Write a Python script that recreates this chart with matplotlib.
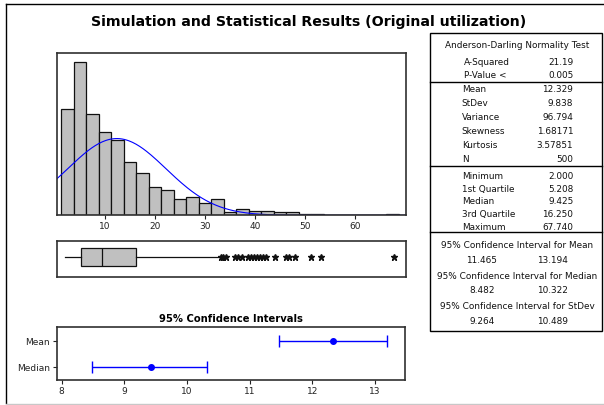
import numpy as np
import matplotlib
matplotlib.use("Agg")
import matplotlib.pyplot as plt
from matplotlib.lines import Line2D

plt.rcParams['font.family'] = ['DejaVu Sans']

# histogram: bin centres (width 2.5) and counts
bin_width = 2.5
bin_centers = np.arange(1, 28) * bin_width
counts = [70, 101, 67, 55, 50, 35, 28, 19, 17, 11, 12, 8, 11,
          2, 4, 3, 3, 2, 2, 1, 1, 0, 0, 0, 0, 0, 1]

# summary stats
n_obs = 500
mean = 12.329
stdev = 9.838
q1, median, q3 = 5.208, 9.425, 16.250
minimum, maximum = 2.000, 67.740
whisker_hi = 32.6
outliers = [33.1, 33.6, 34.1, 36.0, 36.6, 37.3, 38.6, 39.1, 39.7, 40.3,
            40.9, 41.5, 42.1, 44.0, 46.1, 46.8, 47.9, 51.2, 53.2, 67.74]

# confidence intervals
ci_names = ['Median', 'Mean']
ci_center = [9.425, 12.329]
ci_low = [8.482, 11.465]
ci_high = [10.322, 13.194]

hist_ticks = [10, 20, 30, 40, 50, 60]
ci_ticks = [8, 9, 10, 11, 12, 13]

# table text
ad_rows = [('A-Squared', '21.19'), ('P-Value <', '0.005')]
moment_rows = [('Mean', '12.329'), ('StDev', '9.838'), ('Variance', '96.794'),
               ('Skewness', '1.68171'), ('Kurtosis', '3.57851'), ('N', '500')]
quant_rows = [('Minimum', '2.000'), ('1st Quartile', '5.208'), ('Median', '9.425'),
              ('3rd Quartile', '16.250'), ('Maximum', '67.740')]
ci_rows = [('95% Confidence Interval for Mean', '11.465', '13.194'),
           ('95% Confidence Interval for Median', '8.482', '10.322'),
           ('95% Confidence Interval for StDev', '9.264', '10.489')]

W, H = 604, 405
fig = plt.figure(figsize=(W / 100, H / 100), dpi=100)
frame_c = '#303030'

def px_axes(x0, y0, x1, y1):
    return fig.add_axes([x0 / W, 1 - y1 / H, (x1 - x0) / W, (y1 - y0) / H])

def style_frame(ax):
    for s in ax.spines.values():
        s.set_color(frame_c)
        s.set_linewidth(1.2)

# histogram
ax1 = px_axes(56.7, 53.3, 405.7, 215.3)
ax1.bar(bin_centers, counts, width=bin_width, color='#c0c0c0',
        edgecolor='#111111', linewidth=0.9)
xx = np.linspace(0.3, 70.1, 300)
curve = n_obs * bin_width / (stdev * np.sqrt(2 * np.pi)) * np.exp(-0.5 * ((xx - mean) / stdev) ** 2)
ax1.plot(xx, curve, color='#0000ff', lw=0.8)
ax1.set_xlim(0.3, 70.1)
ax1.set_ylim(0, 107)
ax1.set_yticks([])
ax1.set_xticks(hist_ticks)
ax1.tick_params(axis='x', length=3, width=0.8, labelsize=6.5, pad=2, colors='#222222')
style_frame(ax1)

# boxplot
ax2 = px_axes(56.7, 240.7, 405.7, 277.3)
stats = [dict(med=median, q1=q1, q3=q3, whislo=minimum, whishi=whisker_hi, fliers=outliers)]
ax2.bxp(stats, positions=[0.55], widths=0.48, vert=False, showcaps=False, patch_artist=True,
        boxprops=dict(facecolor='#c0c0c0', edgecolor='#111111', linewidth=0.9),
        medianprops=dict(color='#111111', linewidth=0.9),
        whiskerprops=dict(color='#111111', linewidth=0.9),
        flierprops=dict(marker='*', markersize=5, markerfacecolor='#111111',
                        markeredgecolor='#111111', linestyle='none'))
ax2.set_xlim(0.3, 70.1)
ax2.set_ylim(0, 1)
ax2.set_xticks([])
ax2.set_yticks([])
style_frame(ax2)

# confidence intervals
ax3 = px_axes(56.7, 327.3, 405, 380)
ypos = np.arange(len(ci_names))
err = [np.array(ci_center) - np.array(ci_low), np.array(ci_high) - np.array(ci_center)]
ax3.errorbar(ci_center, ypos, xerr=err, fmt='o', color='#0000ff', ms=4,
             capsize=4, elinewidth=1, capthick=1)
ax3.set_xlim(7.92, 13.48)
ax3.set_ylim(-0.48, 1.52)
ax3.set_yticks(ypos)
ax3.set_yticklabels(ci_names)
ax3.set_xticks(ci_ticks)
ax3.tick_params(length=3, width=0.8, labelsize=6.5, pad=2, colors='#222222')
ax3.set_title('95% Confidence Intervals', fontsize=7.2, fontweight='bold', pad=4)
style_frame(ax3)

# overlay in pixel coords for title, table, border
ov = fig.add_axes([0, 0, 1, 1], zorder=-1)
ov.set_xlim(0, W)
ov.set_ylim(H, 0)
ov.axis('off')
ov.add_line(Line2D([6, 604], [4, 4], color='black', lw=1))
ov.add_line(Line2D([6, 6], [4, 403], color='black', lw=1))
ov.add_line(Line2D([6, 604], [403.5, 403.5], color='#c8c8c8', lw=1))

ov.text(309, 22, 'Simulation and Statistical Results (Original utilization)',
        ha='center', va='center', fontsize=10.2, fontweight='bold')

tx0, tx1, ty0, ty1 = 430, 601.7, 32.7, 331
ov.add_patch(plt.Rectangle((tx0, ty0), tx1 - tx0, ty1 - ty0, fill=False, ec='black', lw=1))
for y in [82.3, 166, 231.7]:
    ov.add_line(Line2D([tx0, tx1], [y, y], color='black', lw=1))

fs = 6.4
tc = '#111111'
lab_x, val_x = 461.7, 573.3
ov.text(517, 45.7, 'Anderson-Darling Normality Test', ha='center', va='center', fontsize=fs, color=tc)
for (lab, val), y in zip(ad_rows, [62.3, 75]):
    ov.text(464.3, y, lab, ha='left', va='center', fontsize=fs, color=tc)
    ov.text(val_x, y, val, ha='right', va='center', fontsize=fs, color=tc)
for i, (lab, val) in enumerate(moment_rows):
    y = 89.3 + i * 13.95
    ov.text(lab_x, y, lab, ha='left', va='center', fontsize=fs, color=tc)
    ov.text(val_x, y, val, ha='right', va='center', fontsize=fs, color=tc)
for i, (lab, val) in enumerate(quant_rows):
    y = 176.7 + i * 12.6
    ov.text(lab_x, y, lab, ha='left', va='center', fontsize=fs, color=tc)
    ov.text(val_x, y, val, ha='right', va='center', fontsize=fs, color=tc)
for i, (lab, lo, hi) in enumerate(ci_rows):
    y = 245.7 + i * 30.4
    ov.text(517, y, lab, ha='center', va='center', fontsize=fs, color=tc)
    ov.text(481.7, y + 14.5, lo, ha='center', va='center', fontsize=fs, color=tc)
    ov.text(552.3, y + 14.5, hi, ha='center', va='center', fontsize=fs, color=tc)

fig.savefig('out.png', dpi=100)
